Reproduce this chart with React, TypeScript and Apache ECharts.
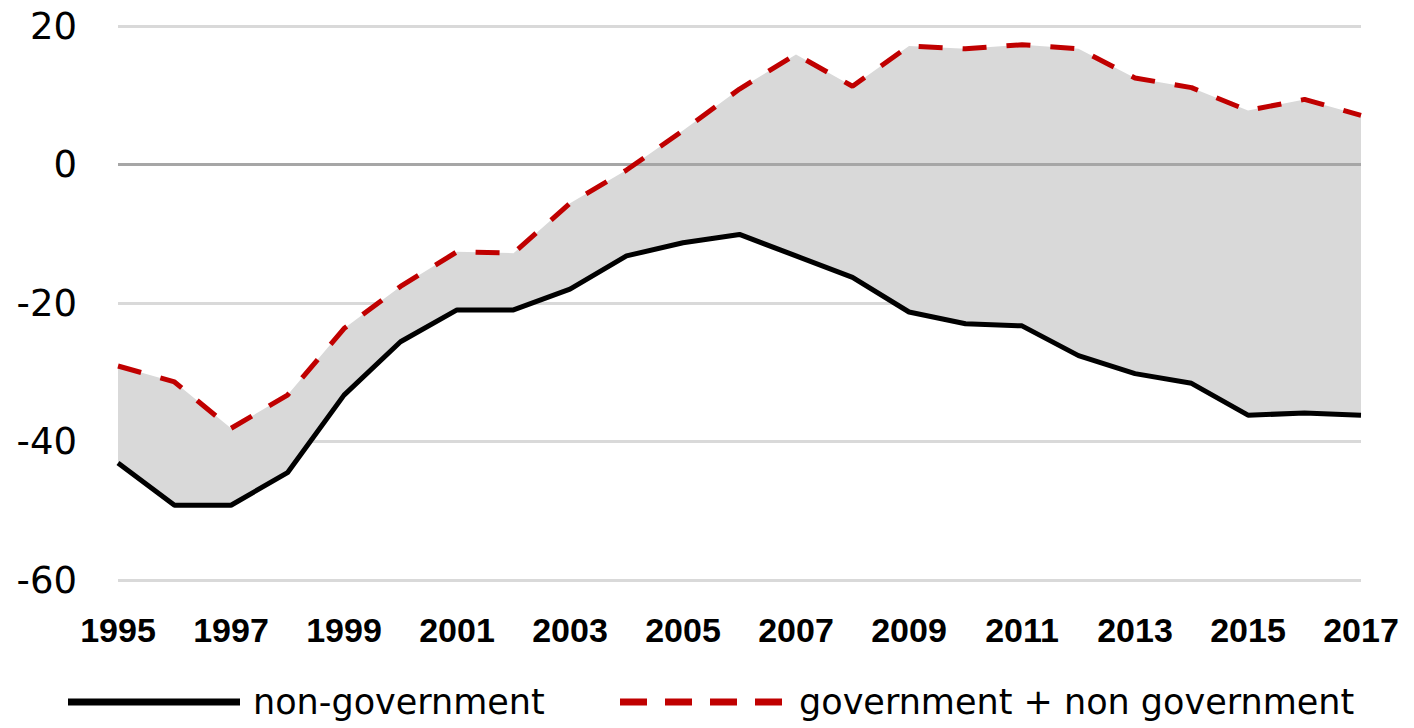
import React, { useEffect, useRef } from "react";
import * as echarts from "echarts";

const years = ["1995","1996","1997","1998","1999","2000","2001","2002","2003","2004","2005","2006","2007","2008","2009","2010","2011","2012","2013","2014","2015","2016","2017"];
const nonGovernment = [-43.1,-49.2,-49.2,-44.5,-33.3,-25.6,-21.0,-21.0,-18.0,-13.2,-11.3,-10.1,-13.2,-16.3,-21.3,-23.0,-23.3,-27.6,-30.2,-31.6,-36.2,-35.9,-36.2];
const govPlusNonGov = [-29.1,-31.4,-38.1,-33.3,-23.7,-17.6,-12.6,-12.8,-5.6,-0.8,4.9,10.9,15.9,11.3,17.1,16.7,17.3,16.7,12.5,11.1,7.8,9.4,7.1];
const yTicks = { min: -60, max: 20, interval: 20 };

const nameNonGov = "non-government";
const nameGov = "government + non government";

const dashIcon = "path://M0,0h27v7h-27z M45,0h27v7h-27z M90,0h27v7h-27z M135,0h27v7h-27z";

export default function App() {
  const ref = useRef<HTMLDivElement>(null);
  useEffect(() => {
    if (!ref.current) return;
    const chart = echarts.init(ref.current, null, { renderer: "svg" });
    const band = govPlusNonGov.map((v, i) => +(v - nonGovernment[i]).toFixed(2));
    const legendText = { fontFamily: "DejaVu Sans", fontSize: 35, lineHeight: 36, color: "#000", padding: [0, 0, 0, 8] };
    chart.setOption({
      animation: false,
      grid: { left: 118, right: 53, top: 26, bottom: 148 },
      xAxis: {
        type: "category",
        data: years,
        boundaryGap: false,
        axisLine: { show: false },
        axisTick: { show: false },
        axisLabel: {
          interval: 1,
          margin: 33,
          color: "#000",
          fontFamily: "Liberation Sans",
          fontWeight: "bold",
          fontSize: 34,
        },
        splitLine: { show: false },
      },
      yAxis: {
        type: "value",
        min: yTicks.min,
        max: yTicks.max,
        interval: yTicks.interval,
        axisLine: { show: false },
        axisTick: { show: false },
        axisLabel: {
          margin: 41,
          color: "#000",
          fontFamily: "DejaVu Sans",
          fontSize: 37,
        },
        splitLine: { lineStyle: { color: "#d9d9d9", width: 3 } },
      },
      legend: [
        {
          left: 68,
          top: 684,
          padding: 0,
          itemWidth: 172,
          itemHeight: 7,
          textStyle: legendText,
          data: [{ name: nameNonGov, icon: "rect", itemStyle: { color: "#000" } }],
        },
        {
          left: 620,
          top: 684,
          padding: 0,
          itemWidth: 170,
          itemHeight: 7,
          textStyle: legendText,
          data: [{ name: nameGov, icon: dashIcon, itemStyle: { color: "#c00000" } }],
        },
      ],
      series: [
        {
          type: "line",
          name: "base",
          data: nonGovernment,
          stack: "band",
          stackStrategy: "all",
          symbol: "none",
          lineStyle: { opacity: 0 },
          silent: true,
        },
        {
          type: "line",
          name: "fill",
          data: band,
          stack: "band",
          stackStrategy: "all",
          symbol: "none",
          lineStyle: { opacity: 0 },
          areaStyle: { color: "#d9d9d9", opacity: 1 },
          silent: true,
          markLine: {
            silent: true,
            symbol: "none",
            label: { show: false },
            lineStyle: { color: "#a6a6a6", width: 3, type: "solid" },
            data: [{ yAxis: 0 }],
          },
        },
        {
          type: "line",
          name: nameNonGov,
          data: nonGovernment,
          symbol: "none",
          lineStyle: { color: "#000", width: 5 },
          itemStyle: { color: "#000" },
          z: 5,
        },
        {
          type: "line",
          name: nameGov,
          data: govPlusNonGov,
          symbol: "none",
          lineStyle: { color: "#c00000", width: 5, type: [24, 20] },
          itemStyle: { color: "#c00000" },
          z: 5,
        },
      ],
    });
    return () => chart.dispose();
  }, []);
  return <div ref={ref} style={{ width: 1414, height: 728, position: "absolute", left: 0, top: 0 }} />;
}
